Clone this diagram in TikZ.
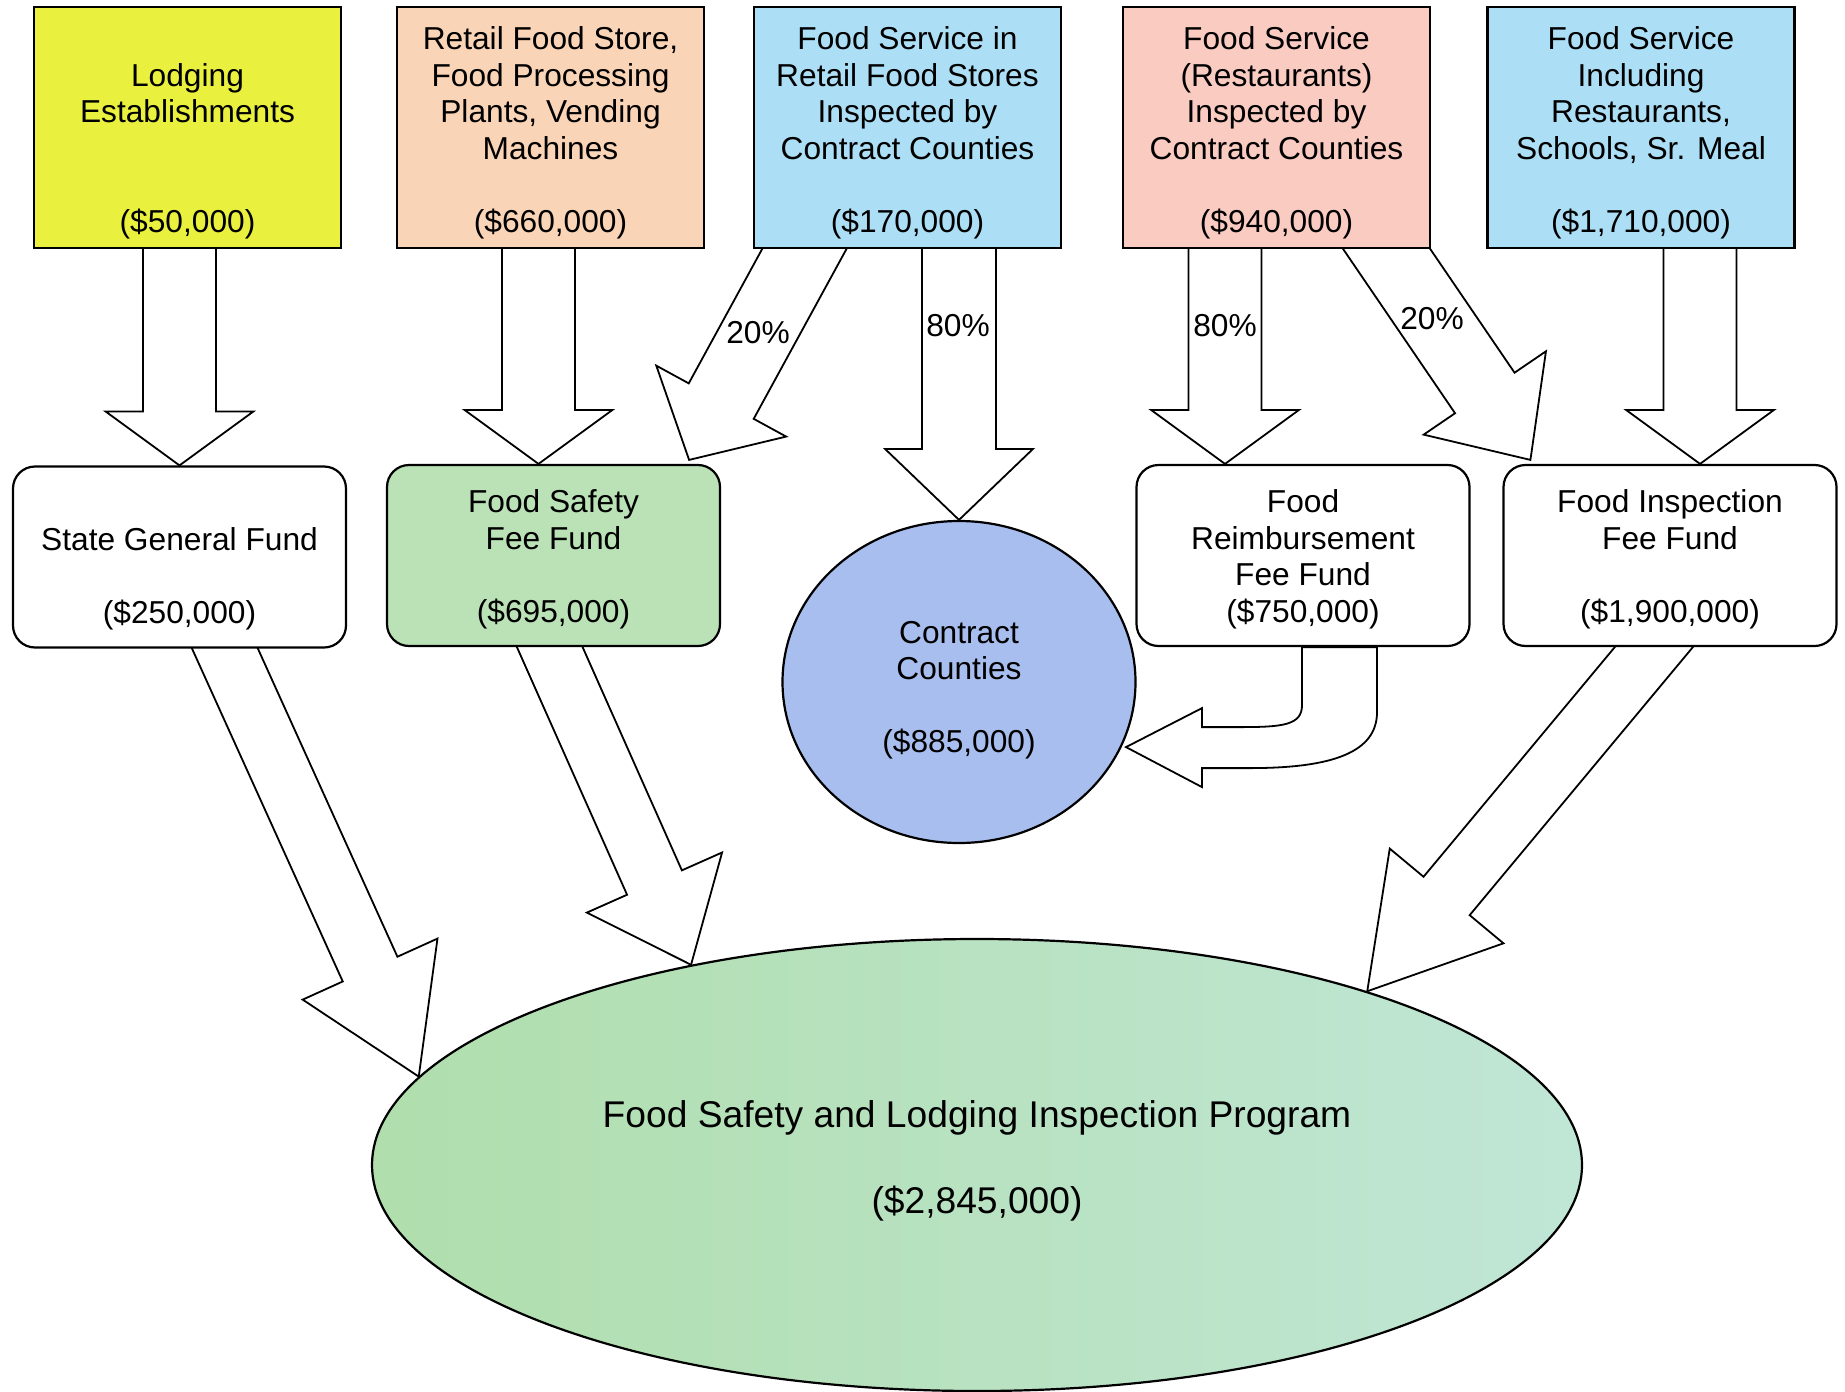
\documentclass[tikz,border=0pt]{standalone}
\usepackage{fontspec}
\setmainfont{Liberation Sans}
\usetikzlibrary{calc,backgrounds,shapes.geometric}

\definecolor{lodgeyellow}{RGB}{234,240,62}
\definecolor{retailpeach}{RGB}{250,212,182}
\definecolor{serviceblue}{RGB}{172,222,245}
\definecolor{restpink}{RGB}{249,203,193}
\definecolor{feegreen}{RGB}{186,226,182}
\definecolor{countyblue}{RGB}{168,190,238}
\definecolor{progleft}{RGB}{176,222,172}
\definecolor{progright}{RGB}{192,230,214}

\newcommand{\lift}[1]{\rule{0pt}{#1}}
\newcommand{\fatarrow}[4]{%
  \path ($(#4)!#2!(#3)$) coordinate (fah);
  \draw[fat] ($(#3)!#1!90:(#4)$) -- ($(fah)!#1!90:(#4)$) -- ($(fah)!37pt!90:(#4)$) -- (#4)
    -- ($(fah)!37pt!-90:(#4)$) -- ($(fah)!#1!-90:(#4)$) -- ($(#3)!#1!-90:(#4)$) -- cycle;
}

\begin{document}
\begin{tikzpicture}[x=0.5pt,y=0.5pt,yscale=-1,xscale=1,
  every node/.style={font=\fontsize{15.85}{18.25}\selectfont, align=center, inner sep=0pt},
  topbox/.style={draw, line width=1.2pt, minimum width=153.5pt, minimum height=120.5pt},
  fundbox/.style={draw, line width=1.1pt, rounded corners=11pt, fill=white, minimum width=166.5pt, minimum height=90.5pt},
  fat/.style={fill=white, line width=0.9pt, line join=miter},
  pct/.style={anchor=center}]
\useasboundingbox (0,0) rectangle (1845,1391);

\node[topbox, fill=lodgeyellow] (lodge) at (187.5,127.5) {\lift{17pt}\\Lodging\\Establishments\\[36.5pt](\$50,000)};
\node[topbox, fill=retailpeach] (retail) at (550.5,127.5) {\lift{17pt}Retail Food Store,\\Food Processing\\Plants, Vending\\Machines\\[18.25pt](\$660,000)};
\node[topbox, fill=serviceblue] (fsretail) at (907.5,127.5) {\lift{17pt}Food Service in\\Retail Food Stores\\Inspected by\\Contract Counties\\[18.25pt](\$170,000)};
\node[topbox, fill=restpink] (fsrest) at (1276.5,127.5) {\lift{17pt}Food Service\\(Restaurants)\\Inspected by\\Contract Counties\\[18.25pt](\$940,000)};
\node[topbox, fill=serviceblue] (fsall) at (1641,127.5) {\lift{17pt}Food Service\\Including\\Restaurants,\\Schools, Sr. Meal\\[18.25pt](\$1,710,000)};

\node[fundbox] (sgf) at (179.5,557) {\lift{15.5pt}\\State General Fund\\[18.25pt](\$250,000)};
\node[fundbox, fill=feegreen] (fsf) at (553.5,555.5) {\lift{15.5pt}Food Safety\\Fee Fund\\[18.25pt](\$695,000)};
\node[fundbox] (frf) at (1303,555.5) {\lift{15.5pt}Food\\Reimbursement\\Fee Fund\\(\$750,000)};
\node[fundbox] (fif) at (1670,555.5) {\lift{15.5pt}Food Inspection\\Fee Fund\\[18.25pt](\$1,900,000)};

\node[ellipse, draw, line width=1.1pt, fill=countyblue, minimum width=176.5pt, minimum height=161pt] (cc) at (959,682) {\lift{19.5pt}Contract\\Counties\\[18.25pt](\$885,000)};
\node[ellipse, draw, line width=1.1pt, left color=progleft, right color=progright, minimum width=605pt, minimum height=226pt,
  font=\fontsize{18.6}{21.5}\selectfont] (prog) at (977,1165) {Food Safety and Lodging Inspection Program\\[21.5pt](\$2,845,000)\rule[-8pt]{0pt}{0pt}};

\coordinate (s1) at (sgf.north |- lodge.center);
\coordinate (t2) at ($(fsf.north)+(-15,0)$);
\coordinate (s2) at (t2 |- retail.center);
\coordinate (s3) at ($(fsretail.south)+(-55.5,-87.5)$);
\coordinate (t3) at ($(fsf.north east)+(-32,-4)$);
\coordinate (s4) at (cc.north |- fsretail.center);
\coordinate (t5) at ($(frf.north)+(-78,0)$);
\coordinate (s5) at (t5 |- fsrest.center);
\coordinate (s6) at ($(fsrest.south)+(51,-87)$);
\coordinate (t6) at ($(fif.north west)+(28,-4)$);
\coordinate (t7) at ($(fif.north)+(30,0)$);
\coordinate (s7) at (t7 |- fsall.center);
\coordinate (s9) at ($(sgf.south)+(-12.5,-128)$);
\coordinate (s10) at ($(fsf.south)+(-46,-95)$);
\coordinate (s11) at ($(fif.south)+(70,-103.5)$);

\begin{scope}[on background layer]
\fatarrow{18.25pt}{27pt}{s1}{sgf.north}
\fatarrow{18.25pt}{27pt}{s2}{t2}
\fatarrow{18.5pt}{33.5pt}{s3}{t3}
\fatarrow{18.5pt}{35.5pt}{s4}{cc.north}
\fatarrow{18.25pt}{27pt}{s5}{t5}
\fatarrow{18pt}{40.5pt}{s6}{t6}
\fatarrow{18.25pt}{27pt}{s7}{t7}
\fatarrow{15pt}{59pt}{s9}{prog.171}
\fatarrow{15pt}{45pt}{s10}{prog.145}
\fatarrow{15pt}{62pt}{s11}{prog.24}
\begin{scope}[shift={(frf.south)}]
\draw[fat] (-1,0) -- (-1,58) .. controls (-1,78) and (-20,80) .. (-63,80) -- (-101,80) -- (-101,61) -- (-177,100)
  -- (-101,140) -- (-101,121) -- (-53,121) .. controls (30,121) and (74,105) .. (74,65) -- (74,0) -- cycle;
\end{scope}
\end{scope}

\node[pct] (p3) at (758,333) {20\%};
\node[pct] (p4) at (958,326) {80\%};
\node[pct] (p5) at (1225,326) {80\%};
\node[pct] (p6) at (1432,319) {20\%};
\end{tikzpicture}
\end{document}
